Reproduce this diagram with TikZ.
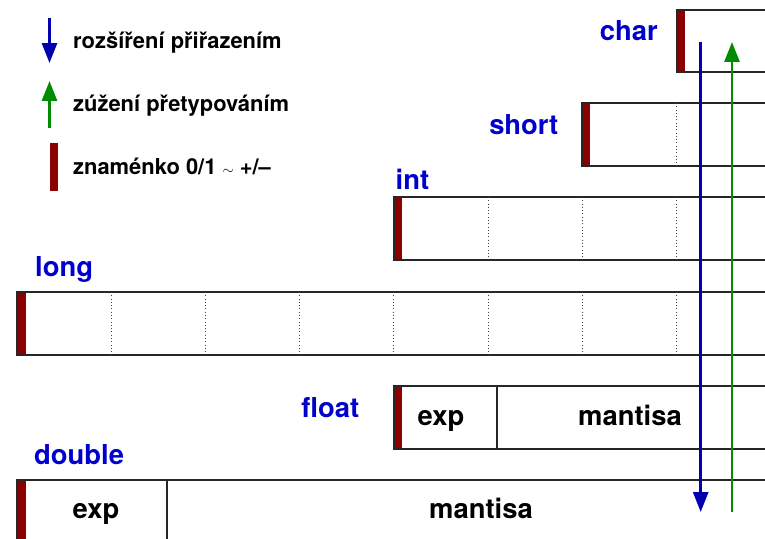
\documentclass[tikz,border=0pt]{standalone}
\usepackage{fontspec}
\setmainfont{TeX Gyre Heros}
\usetikzlibrary{arrows.meta}
\definecolor{typblue}{RGB}{0,0,205}
\definecolor{arrblue}{RGB}{0,0,175}
\definecolor{arrgreen}{RGB}{0,140,0}
\definecolor{signred}{RGB}{139,0,0}
\tikzset{
  typ/.style={text=typblue, inner sep=0pt, font=\fontsize{27.5}{30}\selectfont\bfseries},
  leg/.style={anchor=base west, inner sep=0pt, font=\fontsize{22}{24}\selectfont\bfseries},
  fld/.style={anchor=base, inner sep=0pt, font=\fontsize{27.5}{30}\selectfont\bfseries},
  box/.style={draw=black!85, line width=1.6pt},
  sign/.style={fill=signred},
  byte/.style={draw=black!75, line width=0.9pt, dash pattern=on 0.9pt off 2.4pt},
  down/.style={draw=arrblue, line width=2.8pt, -{Triangle[length=20pt,width=15pt]}},
  up/.style={draw=arrgreen, line width=2.8pt, -{Triangle[length=20pt,width=15pt]}}
}
\begin{document}
\begin{tikzpicture}[x=1bp,y=-1bp]
\useasboundingbox (0,0) rectangle (765,539);
\clip (0,0) rectangle (765,539);
% legend
\coordinate (lgA) at (49.5,18); \coordinate (lgB) at (49.5,63);
\draw[down] (lgA) -- (lgB);
\coordinate (lgC) at (49.5,128); \coordinate (lgD) at (49.5,81);
\draw[up] (lgC) -- (lgD);
\fill[sign] (50,143) rectangle (58,191);
\node[leg] (roz) at (73,49) {rozšíření přiřazením};
\node[leg] (zuz) at (73,111.5) {zúžení přetypováním};
\node[leg] (zna) at (73,175) {znaménko 0/1 {\fontsize{15}{16}\selectfont$\sim$} +/--};
% integer types, one byte = 94.2
\fill[sign] (677,10) rectangle (685,72);
\draw[box] (677,10) rectangle (771,72);
\node[typ, anchor=base east] (char) at (658,41) {char};
\fill[sign] (582,103) rectangle (590,166);
\draw[box] (582,103) rectangle (771,166);
\draw[byte] (676.4,103) -- (676.4,166);
\node[typ, anchor=base east] (short) at (558.5,135) {short};
\fill[sign] (394,197) rectangle (402,260);
\draw[box] (394,197) rectangle (771,260);
\foreach \k in {5,6,7} \draw[byte] (17+\k*94.2,197) -- (17+\k*94.2,260);
\node[typ, anchor=base west] (int) at (395.5,190) {int};
\fill[sign] (17,292) rectangle (26,355);
\draw[box] (17,292) rectangle (771,355);
\foreach \k in {1,...,7} \draw[byte] (17+\k*94.2,292) -- (17+\k*94.2,355);
\node[typ, anchor=base west] (long) at (35,277) {long};
% floating point types
\fill[sign] (394,386) rectangle (402,449);
\draw[box] (394,386) rectangle (771,449);
\draw[box, line width=1.2pt] (497,386) -- (497,449);
\node[typ, anchor=base east] (float) at (359.5,417) {float};
\node[fld] (fexp) at (441,425) {exp};
\node[fld] (fman) at (630,425) {mantisa};
\fill[sign] (17,480) rectangle (26,545);
\draw[box] (17,480) rectangle (771,545);
\draw[box, line width=1.2pt] (167,480) -- (167,545);
\node[typ, anchor=base west] (double) at (34,464) {double};
\node[fld] (dexp) at (96,518.5) {exp};
\node[fld] (dman) at (481,518.5) {mantisa};
% conversions
\coordinate (wA) at (700.7,42); \coordinate (wB) at (700.7,512);
\draw[down] (wA) -- (wB);
\coordinate (nA) at (732,512); \coordinate (nB) at (732,42);
\draw[up] (nA) -- (nB);
\end{tikzpicture}
\end{document}
